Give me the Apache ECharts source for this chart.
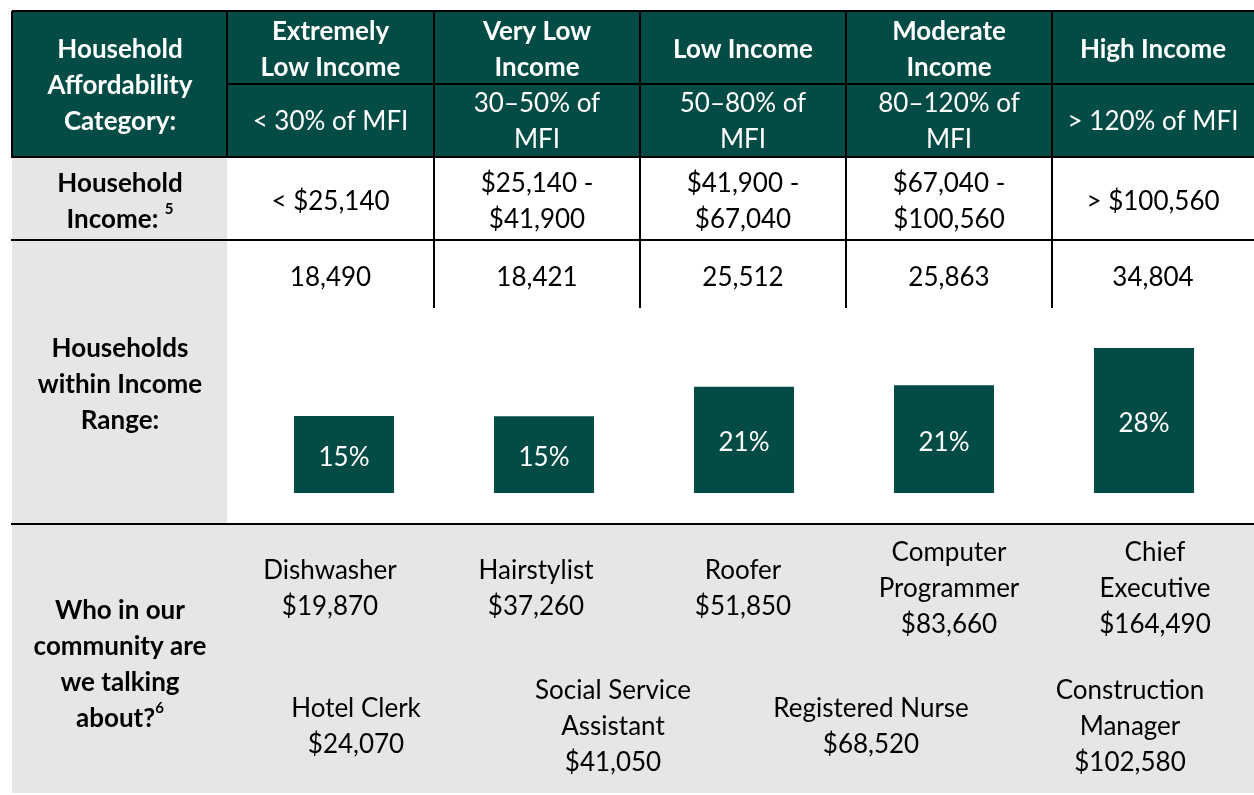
<!DOCTYPE html>
<html>
<head>
<meta charset="utf-8">
<script src="https://cdn.jsdelivr.net/npm/echarts@6/dist/echarts.min.js"></script>
<style>
  html, body { margin: 0; padding: 0; background: #fff; }
  #chart { width: 1254px; height: 795px; }
</style>
</head>
<body>
<div id="chart"></div>
<script>
  // data
  var categories = ['Extremely\nLow Income', 'Very Low\nIncome', 'Low Income', 'Moderate\nIncome', 'High Income'];
  var mfiRanges = ['< 30% of MFI', '30–50% of\nMFI', '50–80% of\nMFI', '80–120% of\nMFI', '> 120% of MFI'];
  var incomeRanges = ['< $25,140', '$25,140 -\n$41,900', '$41,900 -\n$67,040', '$67,040 -\n$100,560', '> $100,560'];
  var households = [18490, 18421, 25512, 25863, 34804];
  var shares = ['15%', '15%', '21%', '21%', '28%'];
  var jobs = ['Dishwasher', 'Hotel Clerk', 'Hairstylist', 'Social Service\nAssistant', 'Roofer',
    'Registered Nurse', 'Computer\nProgrammer', 'Chief\nExecutive', 'Construction\nManager'];
  var wages = ['$19,870', '$24,070', '$37,260', '$41,050', '$51,850', '$68,520', '$83,660', '$164,490', '$102,580'];

  // layout
  var GREEN = '#034c46';
  var GRAY = '#e6e6e6';
  var FONT = 'Lato, "Open Sans", sans-serif';
  var colEdges = [12, 227, 434, 640, 846, 1052, 1254];
  var jobPos = [[330, 589], [356, 727], [536, 589], [613, 727], [743, 589], [871, 727], [949, 589], [1155, 589], [1130, 727]];

  var chart = echarts.init(document.getElementById('chart'));

  function colMid(i) { return (colEdges[i] + colEdges[i + 1]) / 2; }

  function txt(x, y, text, color, bold, rich) {
    return {
      type: 'text', z: 10,
      style: {
        x: x, y: y, text: text, fill: color,
        fontSize: 26, fontFamily: FONT, fontWeight: bold ? 'bold' : 'normal',
        lineHeight: 36, align: 'center', verticalAlign: 'middle',
        rich: rich
      }
    };
  }
  function line(x1, y1, x2, y2) {
    return { type: 'line', z: 5, shape: { x1: x1, y1: y1, x2: x2, y2: y2 }, style: { stroke: '#000', lineWidth: 2 } };
  }
  function rect(x, y, w, h, fill) {
    return { type: 'rect', z: -10, shape: { x: x, y: y, width: w, height: h }, style: { fill: fill } };
  }

  var els = [];
  // backgrounds
  els.push(rect(12, 11, 1242, 146, GREEN));
  els.push(rect(12, 157, 215, 367, GRAY));
  els.push(rect(12, 524, 1242, 269, GRAY));

  // grid lines
  els.push(line(12, 11, 1254, 11));
  els.push(line(12, 11, 12, 157));
  els.push(line(227, 84, 1254, 84));
  els.push(line(11, 157, 1254, 157));
  els.push(line(11, 240, 1254, 240));
  els.push(line(11, 524, 1254, 524));
  for (var k = 1; k < 6; k++) {
    els.push(line(colEdges[k], 11, colEdges[k], 157));
    if (k > 1) {
      els.push(line(colEdges[k], 157, colEdges[k], 240));
      els.push(line(colEdges[k], 240, colEdges[k], 308));
    }
  }

  // row headers
  var sup = { b: { fontSize: 26, fontWeight: 'bold', fontFamily: FONT, fill: '#000', lineHeight: 36 },
              s: { fontSize: 15, fontWeight: 'bold', fontFamily: FONT, fill: '#000', lineHeight: 36, verticalAlign: 'top' } };
  els.push(txt(120, 86, 'Household\nAffordability\nCategory:', '#fff', true));
  els.push(txt(120, 202, '{b|Household}\n{b|Income: }{s|5}', '#000', true, sup));
  els.push(txt(120, 385, 'Households\nwithin Income\nRange:', '#000', true));
  els.push(txt(120, 665, '{b|Who in our}\n{b|community are}\n{b|we talking}\n{b|about?}{s|6}', '#000', true, sup));

  // column cells
  for (var i = 0; i < categories.length; i++) {
    var cx = colMid(i + 1);
    els.push(txt(cx, 50, categories[i], '#fff', true));
    els.push(txt(cx, 122, mfiRanges[i], '#fff', false));
    els.push(txt(cx, 202, incomeRanges[i], '#000', false));
    els.push(txt(cx, 278, households[i].toLocaleString('en-US'), '#000', false));
  }

  // occupations
  for (var j = 0; j < jobs.length; j++) {
    els.push(txt(jobPos[j][0], jobPos[j][1], jobs[j] + '\n' + wages[j], '#000', false));
  }

  chart.setOption({
    animation: false,
    grid: { left: 244, width: 1000, top: 243, height: 250 },
    xAxis: { type: 'category', data: categories, show: false },
    yAxis: { type: 'value', min: 0, max: 60000, show: false },
    graphic: { elements: els },
    series: [{
      type: 'bar',
      data: households,
      barWidth: 100,
      itemStyle: { color: GREEN },
      label: {
        show: true,
        position: 'inside',
        offset: [0, 3],
        color: '#fff',
        fontSize: 26,
        fontFamily: FONT,
        formatter: function (p) { return shares[p.dataIndex]; }
      }
    }]
  });
</script>
</body>
</html>
